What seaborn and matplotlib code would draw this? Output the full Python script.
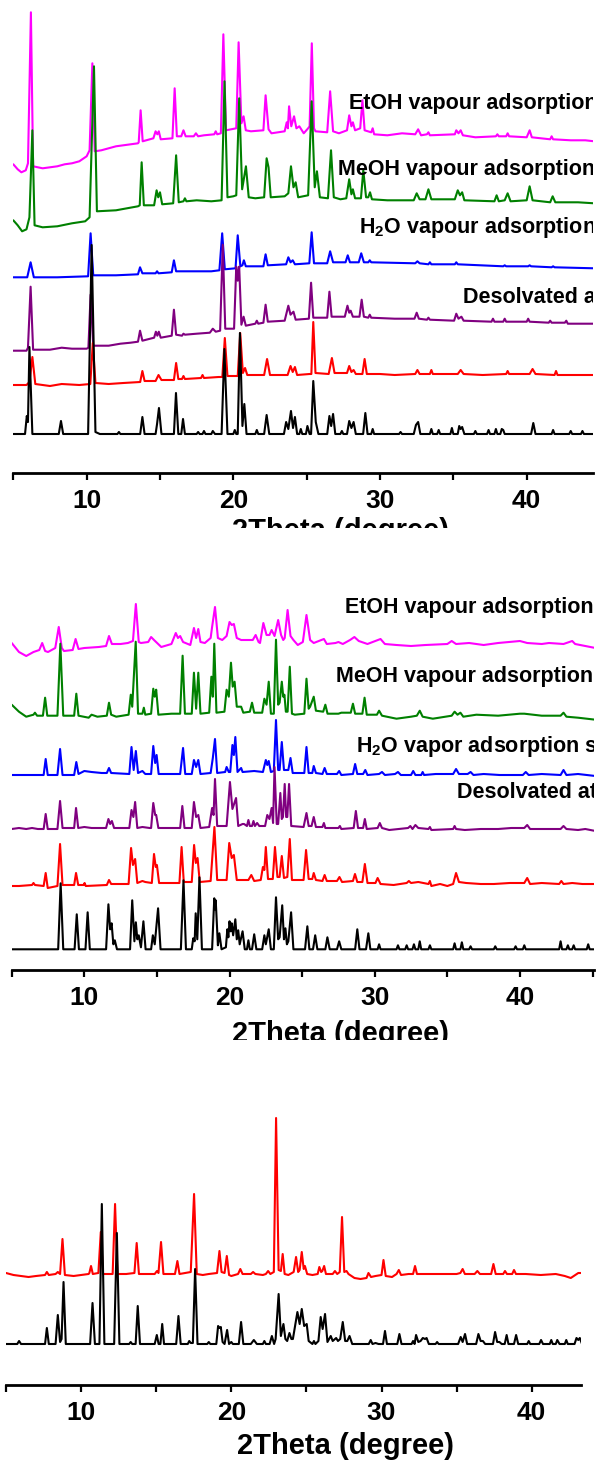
import matplotlib
matplotlib.use("Agg")
import matplotlib.pyplot as plt
from matplotlib.patches import Rectangle
from matplotlib.ticker import MultipleLocator
import pandas as pd
import seaborn as sns

# ---- panel (a): PXRD traces, (2theta, intensity above own baseline) ----
a_sim = [(5.0,0),(5.8,0),(5.92,18),(6.0,12),(6.1,87),(6.3,0),(8.1,0),(8.25,13),(8.4,0),
         (10.1,0),(10.34,189),(10.6,2),(10.9,0),(12.1,0),(12.2,2),(12.3,0),(13.65,0),(13.8,17),(13.95,0),
         (14.7,0),(14.8,10),(14.93,26),(15.1,0),(15.95,0),(16.09,41),(16.25,0),(16.45,0),(16.57,15),(16.7,0),
         (17.5,0),(17.6,2),(17.7,0),(17.9,0),(18.0,3),(18.1,0),(18.5,0),(18.6,3),(18.75,0),
         (19.2,0),(19.39,85),(19.6,0),(20.0,0),(20.1,4),(20.2,0),(20.3,0),(20.45,101),(20.62,8),(20.75,30),(20.9,0),
         (21.5,0),(21.6,4),(21.7,0),(22.1,0),(22.27,19),(22.45,0),
         (23.45,0),(23.6,12),(23.75,5),(23.93,23),(24.07,6),(24.2,17),(24.35,0),
         (24.5,0),(24.6,5),(24.7,0),(24.95,0),(25.05,8),(25.2,0),(25.3,0),(25.45,53),(25.62,12),(25.8,0),
         (26.4,0),(26.55,18),(26.67,8),(26.8,20),(26.95,0),(27.3,0),(27.4,3),(27.5,0),
         (27.75,0),(27.9,13),(28.05,6),(28.2,12),(28.35,0),(28.85,0),(29.0,21),(29.15,0),(29.4,0),(29.5,5),(29.6,0),
         (31.3,0),(31.4,2),(31.5,0),(32.3,0),(32.45,9),(32.6,12),(32.75,0),
         (33.4,0),(33.5,5),(33.6,0),(33.9,0),(34.0,4),(34.1,0),
         (34.8,0),(34.9,6),(35.0,0),(35.3,0),(35.4,8),(35.5,5),(35.6,7),(35.75,0),(36.4,0),(36.5,3),(36.6,0),
         (37.3,0),(37.4,4),(37.5,0),(37.8,0),(37.9,5),(38.0,0),(38.2,0),(38.3,5),(38.4,4),(38.5,0),
         (40.3,0),(40.45,11),(40.6,0),(41.7,0),(41.8,4),(41.9,0),
         (42.9,0),(43.0,3),(43.1,0),(43.7,0),(43.8,3),(43.9,0),(44.6,0)]
a_synth = [(5.0,0),(5.9,0),(6.1,3),(6.3,28),(6.5,1),(7.5,-1),(8.3,1),(9.5,0),
           (10.25,1),(10.42,42),(10.6,2),(11.5,1),(12.5,2),
           (13.65,3),(13.8,14),(13.95,4),(14.7,4),(14.9,10),(15.1,5),
           (15.95,5),(16.1,22),(16.25,6),(16.5,6),(16.6,9),(16.7,6),(17.8,7),(17.9,10),(18.0,7),(19.0,8),
           (19.25,8),(19.42,47),(19.6,9),(20.3,9),(20.47,52),(20.65,12),(20.8,17),(20.95,10),
           (22.1,10),(22.3,26),(22.5,10),(23.7,10),(23.9,19),(24.05,13),(24.2,18),(24.35,10),(25.2,11),
           (25.32,11),(25.45,63),(25.6,12),(26.5,11),(26.72,27),(26.9,12),(27.75,12),(27.9,19),(28.05,13),(28.2,15),(28.35,11),
           (28.8,11),(28.95,26),(29.1,11),(30.0,11),(31.0,10),(32.4,11),(32.55,15),(32.7,11),(33.4,11),(33.5,15),(33.6,11),
           (35.3,11),(35.5,15),(35.7,11),(37.0,10),(38.6,11),(38.7,14),(38.8,11),(40.2,11),(40.4,16),(40.6,11),
           (41.9,10),(42.0,14),(42.1,10),(43.5,10),(44.6,10)]
a_desolv = [(5.0,0),(5.9,0),(6.0,3),(6.18,64),(6.35,1),(7.5,1),(8.3,3),(9.0,2),(10.0,2),
            (10.12,3),(10.27,56),(10.45,5),(11.5,5),(12.3,7),(13.0,8),
            (13.5,9),(13.64,20),(13.8,10),(14.6,13),(14.72,19),(14.82,15),(14.92,19),(15.05,13),
            (15.8,15),(15.95,41),(16.1,16),(16.5,15),(16.6,17),(16.7,16),(17.5,17),(18.4,18),(18.6,22),(18.8,19),
            (19.1,20),(19.28,106),(19.45,22),(20.05,22),(20.2,84),(20.3,70),(20.4,84),(20.55,26),(20.7,34),(20.85,25),
            (21.5,27),(21.6,30),(21.7,27),(22.05,28),(22.2,46),(22.35,29),(23.5,30),(23.75,45),(23.9,36),(24.1,39),(24.25,31),
            (25.15,32),(25.3,68),(25.45,33),(26.4,33),(26.55,59),(26.7,34),(27.6,34),(27.78,45),(27.9,38),(28.0,40),(28.15,34),
            (28.6,34),(28.75,51),(28.9,34),(29.2,33),(29.3,36),(29.4,33),(31.0,32),
            (32.35,32),(32.5,38),(32.65,32),(33.2,31),(33.3,33),(33.4,31),(35.05,30),(35.2,37),(35.35,32),(35.55,34),(35.7,30),
            (37.6,29),(37.7,32),(37.8,29),(38.4,29),(38.5,32),(38.6,29),(40.0,29),(40.1,32),(40.2,29),
            (41.5,28),(41.6,30),(41.7,28),(42.6,28),(42.7,30),(42.8,27),(44.6,27)]
a_h2o = [(5.0,0),(5.95,0),(6.18,15),(6.4,0),(8.0,0),(10.1,1),(10.27,44),(10.45,2),(12.0,2),
         (13.5,3),(13.64,10),(13.8,4),(14.7,4),(14.8,6),(14.9,4),(15.8,5),(15.95,17),(16.1,6),(18.5,6),
         (19.05,7),(19.24,44),(19.42,8),(20.15,9),(20.3,42),(20.48,11),(20.62,12),(20.72,17),(20.85,11),
         (22.05,11),(22.2,23),(22.35,12),(23.6,13),(23.75,20),(23.9,15),(24.05,17),(24.2,13),
         (25.18,14),(25.34,45),(25.5,14),(26.4,14),(26.6,26),(26.8,15),(27.65,15),(27.8,22),(27.95,15),
         (28.55,15),(28.72,24),(28.9,15),(29.2,15),(29.3,17),(29.4,15),
         (32.4,14),(32.55,16),(32.7,14),(33.3,13),(33.4,15),(33.5,13),(35.1,13),(35.2,15),(35.3,13),
         (38.4,11),(38.5,12),(38.6,11),(40.1,11),(40.2,12),(40.3,11),(41.7,10),(41.8,11),(41.9,10),(44.6,9)]
a_meoh = [(5.0,7),(5.3,2),(5.6,-4),(5.9,-2),(6.1,10),(6.3,97),(6.45,2),(7.0,0),(8.0,1),(9.0,4),(9.9,6),
          (10.2,10),(10.5,161),(10.7,16),(12.0,17),(13.5,21),(13.62,22),(13.75,65),(13.9,22),
          (14.6,22),(14.77,37),(14.88,30),(15.0,35),(15.15,23),(15.9,24),(16.1,72),(16.28,25),(16.6,26),(16.7,29),(16.8,26),
          (17.5,27),(18.5,26),(19.2,27),(19.4,146),(19.6,30),(20.0,31),(20.2,32),(20.4,129),(20.6,38),(20.86,61),(21.05,30),
          (21.5,29),(22.1,30),(22.27,69),(22.4,60),(22.55,30),(23.5,31),(23.75,34),(23.93,61),(24.1,40),(24.25,45),(24.42,30),
          (25.1,32),(25.34,126),(25.55,40),(25.7,56),(25.9,30),(26.45,29),(26.66,77),(26.85,30),(27.3,28),
          (27.7,29),(27.9,48),(28.05,33),(28.15,38),(28.3,29),(28.7,29),(28.86,57),(29.05,30),(29.2,30),(29.32,35),(29.45,28),
          (30.5,27),(32.3,27),(32.5,34),(32.7,28),(33.1,28),(33.3,38),(33.5,28),(35.1,28),(35.3,37),(35.45,32),(35.6,35),(35.75,27),
          (37.8,26),(37.95,32),(38.1,26),(38.5,27),(38.7,34),(38.9,26),(40.0,27),(40.2,41),(40.4,27),
          (41.6,25),(41.77,31),(41.95,25),(43.5,25),(44.6,24)]
a_etoh = [(5.0,4),(5.3,-1),(5.55,-4),(5.85,-2),(6.0,5),(6.2,156),(6.35,2),(7.0,0),(8.0,2),(8.5,4),(9.0,5),(9.5,7),(10.0,12),
          (10.2,18),(10.39,105),(10.55,17),(11.0,18),(12.0,22),(13.5,25),(13.55,26),(13.68,58),(13.82,27),
          (14.55,30),(14.7,37),(14.82,34),(14.92,37),(15.05,29),
          (15.85,30),(16.0,80),(16.15,32),(16.45,32),(16.6,38),(16.75,32),(17.3,32),(17.45,35),(17.6,32),(18.0,33),
          (18.7,34),(18.8,37),(18.9,34),(19.15,35),(19.32,134),(19.5,38),(20.2,40),(20.36,126),(20.55,45),(20.7,52),(20.85,38),
          (21.2,37),(22.05,38),(22.2,73),(22.4,39),(22.6,35),
          (23.5,37),(23.64,46),(23.72,40),(23.8,62),(23.95,42),(24.14,52),(24.3,40),(24.5,42),(24.8,35),(25.1,40),
          (25.2,42),(25.35,125),(25.5,40),(25.6,37),(26.4,36),(26.6,77),(26.8,37),(27.2,35),
          (27.75,38),(27.9,53),(28.05,42),(28.15,46),(28.3,38),
          (28.65,40),(28.8,68),(28.95,38),(29.4,36),(29.5,40),(29.6,34),(30.5,33),(31.5,35),
          (32.4,34),(32.6,39),(32.8,33),(33.2,34),(33.3,36),(33.4,33),
          (35.1,34),(35.2,38),(35.35,35),(35.5,38),(35.65,33),(36.5,31),(37.9,32),(38.0,34),(38.1,32),
          (38.6,32),(38.7,35),(38.8,32),(40.0,31),(40.2,38),(40.35,31),
          (41.6,29),(41.7,32),(41.8,29),(43.0,28),(44.0,28),(44.6,27)]

# ---- panel (b) ----
b_sim = [(5.0,0),(8.2,0),(8.37,66),(8.55,0),(9.33,0),(9.48,35),(9.63,0),(10.08,0),(10.23,37),(10.38,0),
         (11.5,0),(11.66,45),(11.78,20),(11.88,26),(12.0,5),(12.1,9),(12.25,0),
         (13.15,0),(13.3,49),(13.45,8),(13.55,27),(13.65,10),(13.75,14),(13.9,2),(14.07,28),(14.22,0),
         (14.6,0),(14.72,14),(14.85,5),(15.08,41),(15.25,0),(16.65,0),(16.83,69),(17.0,0),
         (17.4,0),(17.5,11),(17.6,8),(17.67,36),(17.78,10),(17.93,72),(18.1,0),
         (18.8,0),(18.95,51),(19.0,40),(19.05,49),(19.2,4),(19.3,16),(19.45,0),
         (19.75,2),(19.85,20),(19.92,12),(20.0,28),(20.08,18),(20.15,26),(20.25,14),(20.4,30),(20.5,10),
         (20.6,19),(20.7,5),(20.9,18),(21.05,0),
         (21.2,0),(21.3,9),(21.4,0),(21.55,0),(21.7,15),(21.85,0),(22.25,0),(22.4,14),(22.5,5),(22.7,20),(22.85,0),
         (23.05,0),(23.2,52),(23.35,10),(23.45,12),(23.63,44),(23.75,10),(23.85,21),(23.95,5),(24.05,8),(24.24,37),(24.4,0),
         (25.2,0),(25.36,23),(25.5,0),(25.75,0),(25.9,14),(26.05,0),(26.6,0),(26.74,12),(26.9,0),(27.4,0),(27.55,8),(27.7,0),
         (28.65,0),(28.8,20),(28.95,0),(29.4,0),(29.56,16),(29.7,0),(30.2,0),(30.3,5),(30.4,0),
         (31.5,0),(31.6,4),(31.7,0),(32.1,0),(32.2,4),(32.3,0),
         (32.6,0),(32.7,5),(32.8,0),(33.0,0),(33.1,8),(33.2,0),(33.7,0),(33.8,4),(33.9,0),
         (35.4,0),(35.5,6),(35.6,0),(35.9,0),(36.0,7),(36.1,0),
         (36.5,0),(36.6,3),(36.7,0),(38.2,0),(38.3,3),(38.4,0),(39.6,0),(39.7,3),(39.8,0),(40.2,0),(40.3,4),(40.4,0),
         (42.7,0),(42.8,8),(42.9,0),(43.2,0),(43.3,4),(43.4,0),(43.6,0),(43.7,4),(43.8,0),(44.6,0),(44.7,5),(44.8,0),(45.2,0)]
b_synth = [(5.0,-1),(5.5,-1),(6.4,0),(6.5,2),(6.6,0),(7.2,-1),(7.34,12),(7.48,-3),(8.15,-1),(8.33,41),(8.5,0),
           (9.3,0),(9.43,12),(9.58,0),(9.95,0),(10.02,2),(10.1,-1),(11.55,0),(11.7,5),(11.85,1),
           (13.05,1),(13.22,37),(13.35,20),(13.5,26),(13.65,2),(14.0,4),(14.2,3),
           (14.65,2),(14.8,31),(14.92,18),(15.0,20),(15.15,2),(16.0,2),(16.55,2),(16.7,38),(16.85,3),
           (17.4,3),(17.56,40),(17.68,22),(17.8,27),(17.95,3),
           (18.7,4),(18.96,58),(19.15,5),(19.8,5),(19.98,42),(20.15,27),(20.3,30),(20.5,5),(21.3,5),(21.5,10),(21.7,4),
           (22.15,5),(22.3,18),(22.4,15),(22.5,38),(22.65,6),(22.98,6),(23.13,38),(23.3,8),(23.45,8),(23.6,29),(23.75,7),
           (23.98,8),(24.15,46),(24.3,5),
           (25.1,5),(25.27,35),(25.45,6),(25.7,6),(25.8,12),(25.95,5),(26.4,4),(26.55,10),(26.7,4),
           (27.4,4),(27.57,8),(27.75,3),(28.5,4),(28.64,11),(28.8,3),
           (29.15,3),(29.32,21),(29.5,2),(30.05,2),(30.2,7),(30.4,1),(31.3,0),(32.2,2),(32.35,4),(32.5,2),(33.0,3),
           (33.7,1),(33.8,4),(33.9,-1),(34.5,1),(35.0,-1),
           (35.4,1),(35.6,12),(35.8,3),(36.3,2),(37.3,1),(38.2,1),(39.3,2),(40.3,2),(40.5,7),(40.7,1),(41.5,2),
           (42.7,1),(42.85,4),(43.0,1),(43.6,2),(44.3,1),(45.2,1)]
b_desolv = [(5.0,0),(5.5,1),(6.0,0),(6.4,1),(6.8,0),(7.2,0),(7.34,15),(7.48,0),(8.15,0),(8.33,28),(8.5,1),
            (9.3,1),(9.43,21),(9.58,1),(10.0,2),(10.5,1),
            (11.5,1),(11.66,10),(11.78,5),(11.9,8),(12.05,1),(13.1,1),(13.25,19),(13.38,12),(13.5,27),(13.65,1),(14.0,2),(14.5,1),
            (14.6,1),(14.75,26),(14.88,14),(14.95,14),(15.1,1),(16.2,1),(16.6,1),(16.75,23),(16.9,1),
            (17.4,1),(17.55,27),(17.7,12),(17.85,14),(18.0,1),
            (18.6,2),(18.8,21),(18.9,14),(19.0,50),(19.15,3),(19.8,3),(20.03,47),(20.2,20),(20.45,31),(20.6,3),
            (20.9,5),(21.0,5),(21.2,3),(21.3,9),(21.4,3),(21.55,3),(21.65,8),(21.75,3),(21.9,6),(22.05,3),
            (22.45,3),(22.6,14),(22.75,10),(22.9,21),(23.0,6),(23.1,62),(23.25,5),(23.35,5),(23.5,36),(23.6,10),
            (23.68,12),(23.8,45),(23.9,12),(23.98,12),(24.1,45),(24.25,3),
            (25.1,2),(25.3,16),(25.45,3),(25.65,3),(25.8,12),(25.95,2),(26.4,2),(26.5,6),(26.6,1),(27.5,1),(27.6,3),(27.7,0),
            (28.55,1),(28.7,18),(28.85,1),(29.2,1),(29.32,10),(29.45,0),
            (30.2,1),(30.35,6),(30.5,1),(31.0,-1),(32.3,1),(32.45,3),(32.6,0),(32.8,4),(33.0,1),(33.7,0),(33.8,2),(33.9,-1),
            (35.4,0),(35.5,3),(35.6,0),(36.2,-1),(37.3,0),(38.5,0),(39.4,1),(40.3,1),(40.5,4),(40.7,0),
            (41.5,0),(42.8,0),(43.0,3),(43.2,0),(44.0,-1),(44.5,0),(45.2,-2)]
b_h2o = [(5.0,0),(6.5,0),(7.2,0),(7.34,16),(7.48,0),(8.15,0),(8.33,26),(8.5,0),(9.3,0),(9.45,13),(9.6,1),
         (10.0,4),(10.5,3),(11.2,2),(11.55,2),(11.7,7),(11.85,2),(13.1,1),(13.25,28),(13.4,5),(13.55,24),(13.7,2),
         (14.0,4),(14.2,1),(14.6,1),(14.75,29),(14.88,12),(14.98,20),(15.12,1),
         (16.6,1),(16.8,27),(16.95,1),(17.4,1),(17.55,15),(17.7,8),(17.85,15),(18.0,1),
         (18.7,2),(18.85,17),(19.0,36),(19.15,2),(19.7,3),(19.8,8),(19.95,3),
         (20.05,3),(20.2,30),(20.3,20),(20.4,38),(20.55,3),(20.8,7),(20.9,3),(21.7,4),
         (22.3,3),(22.5,15),(22.6,10),(22.7,14),(22.85,3),(23.05,4),(23.2,55),(23.35,5),(23.45,5),(23.6,33),(23.75,5),
         (24.05,5),(24.2,17),(24.35,2),
         (25.15,2),(25.3,28),(25.45,2),(25.7,2),(25.8,9),(25.95,2),(26.4,1),(26.55,7),(26.7,1),(27.4,1),(27.55,4),(27.7,0),
         (28.5,1),(28.65,11),(28.8,1),(29.2,1),(29.35,5),(29.5,0),
         (30.3,1),(30.5,3),(30.7,0),(31.4,1),(31.6,3),(31.8,0),(32.5,0),(32.65,4),(32.8,0),(33.2,0),(33.3,3),(33.4,0),
         (34.2,1),(35.4,1),(35.6,6),(35.8,1),(36.4,1),(36.6,3),(36.8,0),
         (37.5,1),(38.6,0),(40.2,0),(40.4,3),(40.6,0),(41.5,1),(42.8,0),(43.0,5),(43.2,0),(44.0,1),(45.2,-1)]
b_meoh = [(5.0,12),(5.5,5),(6.0,0),(6.5,2),(6.6,4),(6.75,1),(7.15,1),(7.3,19),(7.45,1),(8.15,1),(8.35,73),(8.55,1),
          (9.3,1),(9.45,23),(9.6,1),(10.3,-1),(10.5,2),(10.9,0),
          (11.55,1),(11.7,14),(11.85,2),(12.2,0),(13.05,2),(13.2,22),(13.3,10),(13.54,75),(13.7,3),(14.0,3),(14.1,9),(14.2,2),
          (14.6,3),(14.75,28),(14.85,20),(14.95,27),(15.1,2),
          (16.0,3),(16.6,3),(16.77,61),(16.93,3),(17.4,3),(17.55,44),(17.7,8),(17.85,44),(18.0,3),
          (18.6,4),(18.75,40),(18.85,20),(18.95,73),(19.1,4),
          (19.65,5),(19.8,27),(19.95,20),(20.1,54),(20.22,30),(20.35,35),(20.5,10),(20.8,10),(20.95,4),
          (21.4,5),(21.55,14),(21.7,4),(22.25,4),(22.4,18),(22.55,12),(22.7,35),(22.85,3),
          (23.05,3),(23.2,77),(23.35,12),(23.45,14),(23.6,35),(23.7,20),(23.78,22),(23.88,5),(24.0,5),(24.15,50),(24.3,3),(24.5,2),
          (25.15,3),(25.3,38),(25.45,8),(25.55,10),(25.8,20),(25.95,6),(26.45,5),(26.6,12),(26.75,3),(27.5,3),(27.7,4),
          (28.35,4),(28.5,13),(28.65,3),(29.15,3),(29.3,19),(29.45,2),
          (30.15,2),(30.3,6),(30.5,1),(31.5,-2),(32.5,0),(32.9,1),(33.1,6),(33.3,0),(34.0,-2),
          (35.3,1),(35.5,5),(35.7,2),(35.9,4),(36.1,0),(37.0,2),(38.5,1),(40.0,3),(40.3,3),(41.5,1),
          (42.8,1),(43.0,4),(43.2,0),(44.0,-1),(45.2,-3)]
b_etoh = [(5.0,7),(5.5,-2),(6.0,-6),(6.5,-2),(6.9,0),(7.1,7),(7.3,-1),(7.5,-2),(8.0,2),(8.24,23),(8.45,2),(8.6,-1),
          (9.2,0),(9.4,11),(9.6,1),(10.0,2),(11.0,3),
          (11.5,4),(11.7,14),(11.9,6),(12.5,6),(13.0,7),(13.35,9),(13.55,46),(13.75,8),(13.9,7),(14.4,8),(14.6,13),(14.8,10),
          (15.3,3),(16.0,6),(16.3,17),(16.45,12),(16.6,14),(16.8,8),
          (17.3,5),(17.55,22),(17.7,12),(17.85,21),(18.0,8),(18.3,7),(18.7,12),(18.8,23),(19.0,43),(19.2,12),(19.5,10),
          (19.8,14),(20.0,28),(20.15,25),(20.3,26),(20.5,12),(20.8,10),(21.3,10),
          (21.6,10),(21.8,15),(22.0,8),(22.1,7),(22.33,27),(22.55,15),(22.75,15),(22.9,20),(23.1,14),(23.35,30),(23.55,15),
          (23.7,10),(23.8,12),(24.0,40),(24.2,14),(24.4,10),(24.7,5),
          (25.05,8),(25.3,35),(25.55,10),(25.8,7),(26.5,11),(26.7,6),(27.3,7),(27.5,8),(27.8,6),(28.3,10),(28.6,13),(28.9,9),
          (29.5,6),(30.4,11),(30.7,6),(31.5,5),(32.5,4),(33.5,5),
          (35.0,6),(35.3,9),(35.6,6),(36.5,7),(37.5,5),(38.5,7),(40.0,9),(40.5,7),(41.5,6),(42.0,7),(43.0,6),(43.6,9),
          (43.8,6),(44.5,4),(45.2,2)]

# ---- panel (c) ----
c_sim = [(5.0,0),(5.75,0),(5.87,3),(6.0,0),(7.6,0),(7.72,16),(7.85,0),(8.3,0),(8.45,29),(8.6,2),(8.7,5),(8.83,62),(8.98,0),
         (10.6,0),(10.76,41),(10.92,0),(11.22,0),(11.38,140),(11.55,0),(12.2,0),(12.38,111),(12.55,0),
         (13.2,0),(13.3,2),(13.4,0),(13.63,0),(13.77,38),(13.92,0),(14.9,0),(15.04,9),(15.16,0),(15.28,0),(15.4,20),(15.52,0),
         (16.33,0),(16.48,28),(16.63,0),(17.1,0),(17.2,3),(17.3,1),(17.44,1),(17.59,75),(17.75,0),(18.4,0),(18.5,2),(18.6,0),
         (19.0,0),(19.12,18),(19.22,16),(19.3,17),(19.42,2),(19.55,0),(19.72,14),(19.85,0),(20.0,2),(20.1,0),
         (20.5,0),(20.65,22),(20.8,0),
         (21.3,0),(21.5,4),(21.7,0),(22.1,0),(22.2,3),(22.3,0),(22.55,0),(22.7,8),(22.85,0),(22.95,5),(23.15,50),(23.3,8),
         (23.47,20),(23.6,5),(23.72,3),(23.87,11),(24.0,5),(24.1,5),
         (24.4,32),(24.55,20),(24.69,35),(24.85,18),(25.02,20),(25.15,3),(25.4,0),(25.5,3),(25.6,0),(25.8,3),(25.95,27),
         (26.08,15),(26.24,30),(26.4,2),(26.62,8),(26.75,3),(26.98,6),(27.1,3),(27.25,5),(27.42,22),(27.58,3),(27.72,3),
         (27.87,8),(28.05,0),
         (29.15,0),(29.28,4),(29.4,0),(29.6,1),(29.8,0),(30.1,0),(30.23,13),(30.36,0),(31.05,0),(31.19,10),(31.33,0),
         (32.0,0),(32.1,3),(32.2,0),(32.3,9),(32.45,2),(32.6,3),(32.75,6),(32.9,5),(33.0,6),(33.15,0),
         (33.6,0),(33.7,2),(33.8,0),(34.5,0),(35.1,0),(35.27,7),(35.4,2),(35.56,10),(35.7,0),(36.3,0),(36.45,10),(36.6,3),
         (36.75,3),(36.9,0),(37.42,0),(37.56,12),(37.7,2),(37.85,2),(38.0,0),
         (38.2,0),(38.33,9),(38.45,0),(38.82,0),(38.96,9),(39.1,0),(39.7,0),(39.8,3),(39.9,0),(40.5,0),(40.62,4),(40.75,0),
         (41.2,0),(41.3,4),(41.4,0),(41.6,0),(41.7,4),(41.85,0),(42.2,0),(42.3,4),(42.4,0),(42.85,0),(42.98,6),(43.1,4),
         (43.2,6),(43.35,0)]
c_synth = [(5.0,1),(5.5,-1),(6.0,-2),(6.5,-3),(7.0,-2),(7.6,-1),(7.72,2),(7.85,-1),(8.3,0),(8.45,2),(8.6,0),(8.76,35),
           (8.92,-1),(9.5,-2),(10.0,-1),(10.5,0),
           (10.55,1),(10.66,8),(10.78,0),(11.15,1),(11.31,42),(11.46,0),(12.1,0),(12.26,70),(12.42,0),(13.0,0),
           (13.55,1),(13.7,31),(13.85,0),(14.9,0),(15.05,3),(15.15,1),(15.32,32),(15.48,0),
           (16.25,0),(16.41,13),(16.55,0),(17.3,2),(17.52,80),(17.7,0),(18.1,-1),(18.5,0),(19.05,1),(19.21,23),(19.35,2),
           (19.55,1),(19.7,18),(19.85,-1),(20.0,-2),(20.45,0),(20.6,5),(20.75,0),
           (21.3,0),(21.45,2),(21.6,0),(22.1,-1),(22.3,0),(22.45,3),(22.6,0),(22.83,2),(22.98,156),(23.15,4),(23.3,3),
           (23.42,20),(23.55,0),(23.8,-1),(24.15,2),(24.31,17),(24.45,2),
           (24.55,4),(24.69,22),(24.82,5),(24.9,8),(25.05,0),(25.4,-1),(25.75,0),(25.86,7),(25.98,2),(26.06,3),(26.18,8),
           (26.3,0),(26.5,0),(26.75,0),(26.9,3),(27.05,0),(27.22,2),(27.37,57),(27.52,2),(27.67,3),(27.8,0),
           (28.2,-4),(28.6,-5),(29.0,-4),(29.13,1),(29.3,-3),(29.6,-2),(30.0,-1),(30.13,14),(30.28,-2),(30.7,-3),(31.0,0),
           (31.15,4),(31.3,-1),(31.8,0),(32.1,0),(32.23,8),(32.36,0),(33.0,0),(34.0,0),(35.0,0),
           (35.25,1),(35.4,5),(35.55,0),(36.2,0),(36.38,3),(36.55,0),(37.3,0),(37.45,10),(37.6,0),(38.1,0),(38.22,3),
           (38.35,0),(38.7,0),(38.82,4),(38.95,0),(39.6,0),(40.6,-1),(41.6,0),(42.2,-2),(42.6,-4),(42.9,-1),(43.1,1),(43.3,1)]

labels_a = ["EtOH vapour adsorption", "MeOH vapour adsorption", "H$_2$O vapour adsorption", "Desolvated at"]
labels_b = ["EtOH vapour adsorption", "MeOH vapour adsorption", "H$_2$O vapor adsorption s", "Desolvated at"]
xlabel = "2Theta (degree)"
tick_values = [10, 20, 30, 40]

colors_a = ["magenta", "green", "blue", "purple", "red", "black"]
colors_c = ["red", "black"]

sns.set_style("white")
plt.rcParams["font.family"] = ["Liberation Sans", "DejaVu Sans"]
plt.rcParams["mathtext.fontset"] = "custom"
plt.rcParams["mathtext.rm"] = "Liberation Sans:bold"
plt.rcParams["mathtext.it"] = "Liberation Sans:bold"
plt.rcParams["mathtext.bf"] = "Liberation Sans:bold"
for key in ["text.color", "axes.labelcolor", "xtick.color", "axes.edgecolor"]:
    plt.rcParams[key] = "black"

W, H = 600, 1461
fig = plt.figure(figsize=(W / 100, H / 100), dpi=100)


def panel(left, right, top, bottom, xmax):
    ax = fig.add_axes([left / W, 1 - bottom / H, (right - left) / W, (bottom - top) / H])
    ax.set_xlim(5, xmax)
    ax.set_ylim(0, bottom - top)
    return ax


def draw(ax, traces, offsets, colors):
    # top trace first, lower traces painted over it
    for pts, off, col in zip(traces, offsets, colors):
        df = pd.DataFrame(pts, columns=["two_theta", "intensity"])
        df["intensity"] = df["intensity"] + off
        sns.lineplot(data=df, x="two_theta", y="intensity", ax=ax, color=col,
                     lw=1.5, estimator=None, sort=False)


def style(ax, label_x, label_y):
    sns.despine(ax=ax, left=True)
    ax.spines["bottom"].set_linewidth(2.0)
    ax.set_yticks([])
    ax.set_ylabel("")
    ax.xaxis.set_major_locator(MultipleLocator(10))
    ax.xaxis.set_minor_locator(MultipleLocator(5))
    ax.set_xticks(tick_values)
    ax.tick_params(axis="x", which="both", direction="out", length=5, width=1.6,
                   bottom=True, labelsize=19, pad=6.5, colors="black")
    for t in ax.get_xticklabels():
        t.set_fontweight("bold")
    ax.set_xlabel(xlabel, fontsize=21, fontweight="bold", color="black")
    ax.xaxis.set_label_coords(label_x, label_y)


def tag(ax, x, y, s):
    ax.text(x, y, s, fontsize=15.5, fontweight="bold", color="black",
            ha="left", va="baseline", clip_on=True)


# panel (a)
ax1 = panel(13.3, 593, 0, 472.7, 44.52)
draw(ax1, [a_etoh, a_meoh, a_h2o, a_desolv, a_synth, a_sim],
     [304.4, 245.4, 195.4, 122, 87.7, 38.7], colors_a)
style(ax1, 0.565, -44 / 472.7)
for (x, y), s in zip([(27.9, 363.4), (27.15, 297.7), (28.57, 239.4), (35.63, 169.4)], labels_a):
    tag(ax1, x, y, s)

# panel (b)
ax2 = panel(11.7, 594, 575, 970, 45.10)
draw(ax2, [b_etoh, b_meoh, b_h2o, b_desolv, b_synth, b_sim],
     [320, 253.3, 195, 141, 85, 20.7], colors_a)
style(ax2, 0.5655, -50 / 395)
for (x, y), s in zip([(27.95, 356.7), (27.31, 288.3), (28.71, 218.3), (35.65, 171.7)], labels_b):
    tag(ax2, x, y, s)

# panel (c)
ax3 = panel(6, 581, 1105, 1385, 43.28)
draw(ax3, [c_synth, c_sim], [111, 41], colors_c)
style(ax3, 0.5896, -47 / 280)

# the source image is cropped just under the first two axis titles
for y0, y1 in [(528, 575), (1040, 1105)]:
    fig.add_artist(Rectangle((0, 1 - y1 / H), 1, (y1 - y0) / H, transform=fig.transFigure,
                             facecolor="white", edgecolor="none", zorder=10))

fig.savefig("out.png", dpi=100)
